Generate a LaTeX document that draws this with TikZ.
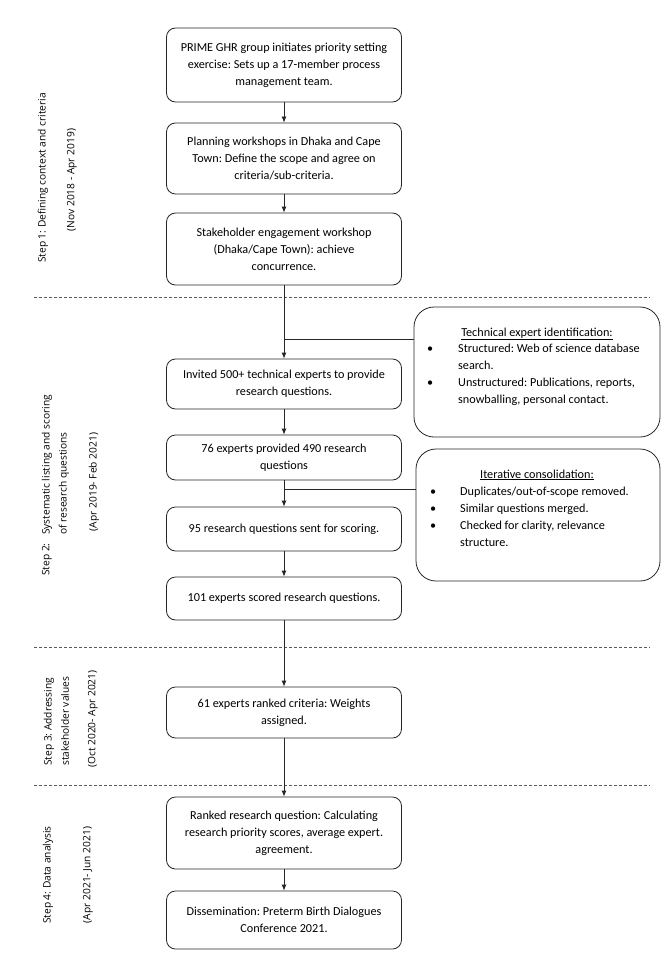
\documentclass[tikz,border=0pt]{standalone}
\usepackage{fontspec}
\setmainfont{Carlito}
\newfontfamily\sidefont{Open Sans}
\usetikzlibrary{arrows.meta}
\begin{document}
\frenchspacing
\begin{tikzpicture}[x=1pt,y=-1pt,
  box/.style={draw=black!85, line width=0.8pt, rounded corners=9pt, minimum width=235pt,
    align=center, inner sep=0pt, font=\frenchspacing\fontsize{12.2}{17}\selectfont},
  sidebox/.style={draw=black!85, line width=0.8pt, rounded corners=20pt, inner sep=0pt},
  line/.style={draw=black!85, line width=0.8pt},
  arr/.style={line, -{Latex[length=6pt,width=5pt]}},
  sep/.style={draw=black!65, line width=0.8pt, dash pattern=on 3pt off 2pt},
  side/.style={rotate=90, font=\sidefont\fontsize{10.2}{12}\selectfont, inner sep=0pt},
  itm/.style={anchor=base west, inner sep=0pt, font=\frenchspacing\fontsize{12.2}{14}\selectfont},
  ttl/.style={anchor=base, inner sep=0pt, font=\frenchspacing\fontsize{12.2}{14}\selectfont},
]
\useasboundingbox (0,0) rectangle (666,963);

% separators
\coordinate (s1a) at (34,297); \coordinate (s1b) at (650,297);
\coordinate (s2a) at (34,647); \coordinate (s2b) at (650,647);
\coordinate (s3a) at (34,785); \coordinate (s3b) at (650,785);
\draw[sep] (s1a) -- (s1b);
\draw[sep] (s2a) -- (s2b);
\draw[sep] (s3a) -- (s3b);

% main boxes
\node[box, minimum height=74pt] (b1) at (284,65) {PRIME GHR group initiates priority setting\\exercise: Sets up a 17-member process\\management team.};
\node[box, minimum height=71pt] (b2) at (284,158.5) {Planning workshops in Dhaka and Cape\\Town: Define the scope and agree on\\criteria/sub-criteria.};
\node[box, minimum height=72pt] (b3) at (284,249) {Stakeholder engagement workshop\\(Dhaka/Cape Town): achieve\\concurrence.};
\node[box, minimum height=50pt] (b4) at (284,384) {Invited 500+ technical experts to provide\\research questions.};
\node[box, minimum height=45pt] (b5) at (284,457.5) {76 experts provided 490 research\\questions};
\node[box, minimum height=44pt] (b6) at (284,529) {95 research questions sent for scoring.};
\node[box, minimum height=43pt] (b7) at (284,598.5) {101 experts scored research questions.};
\node[box, minimum height=51pt] (b8) at (284,712.5) {61 experts ranked criteria: Weights\\assigned.};
\node[box, minimum height=72pt] (b9) at (284,833) {Ranked research question: Calculating\\research priority scores, average expert.\\agreement.};
\node[box, minimum height=58pt] (b10) at (284,920) {Dissemination: Preterm Birth Dialogues\\Conference 2021.};

% side boxes
\node[sidebox, minimum width=246pt, minimum height=130pt] (rA) at (537,372) {};
\node[sidebox, minimum width=244pt, minimum height=132pt] (rB) at (538,515) {};

\node[ttl] (rAt) at (537,336) {\underline{Technical expert identification:}};
\node[itm] (rAb1) at (427,352) {•};
\node[itm] (rA1) at (458,352) {Structured: Web of science database};
\node[itm] (rA1b) at (458,369) {search.};
\node[itm] (rAb2) at (427,386) {•};
\node[itm] (rA2) at (458,386) {Unstructured: Publications, reports,};
\node[itm] (rA2b) at (458,403) {snowballing, personal contact.};

\node[ttl] (rBt) at (537,478) {\underline{Iterative consolidation:}};
\node[itm] (rBb1) at (430,495) {•};
\node[itm] (rB1) at (460,495) {Duplicates/out-of-scope removed.};
\node[itm] (rBb2) at (430,512) {•};
\node[itm] (rB2) at (460,512) {Similar questions merged.};
\node[itm] (rBb3) at (430,529) {•};
\node[itm] (rB3) at (460,529) {Checked for clarity, relevance};
\node[itm] (rB3b) at (460,546) {structure.};

% connectors
\draw[arr] (b1) -- (b2);
\draw[arr] (b2) -- (b3);
\draw[arr] (b3) -- (b4);
\draw[arr] (b4) -- (b5);
\draw[arr] (b5) -- (b6);
\draw[arr] (b6) -- (b7);
\draw[arr] (b7) -- (b8);
\draw[arr] (b8) -- (b9);
\draw[arr] (b9) -- (b10);
\coordinate (jA) at (284,339);
\coordinate (jB) at (284,489);
\draw[line] (jA -| rA.west) -- (jA);
\draw[line] (jB -| rB.west) -- (jB);

% side labels
\node[side] (l1) at (43,178) {Step 1: Defining context and criteria};
\node[side] (d1) at (72,180) {(Nov 2018 - Apr 2019)};
\node[side, anchor=west] (l2a) at (47,576) {Step 2:};
\node[side, anchor=west] (l2b) at (47,535) {Systematic listing and scoring};
\node[side, anchor=west] (l2c) at (64,535) {of research questions};
\node[side] (d2) at (94,482) {(Apr 2019- Feb 2021)};
\node[side, anchor=west] (l3a) at (49,766) {Step 3: Addressing};
\node[side, anchor=west] (l3b) at (65,766) {stakeholder values};
\node[side] (d3) at (93,719) {(Oct 2020- Apr 2021)};
\node[side] (l4) at (48,875) {Step 4: Data analysis};
\node[side] (d4) at (88,875) {(Apr 2021- Jun 2021)};
\end{tikzpicture}
\end{document}
